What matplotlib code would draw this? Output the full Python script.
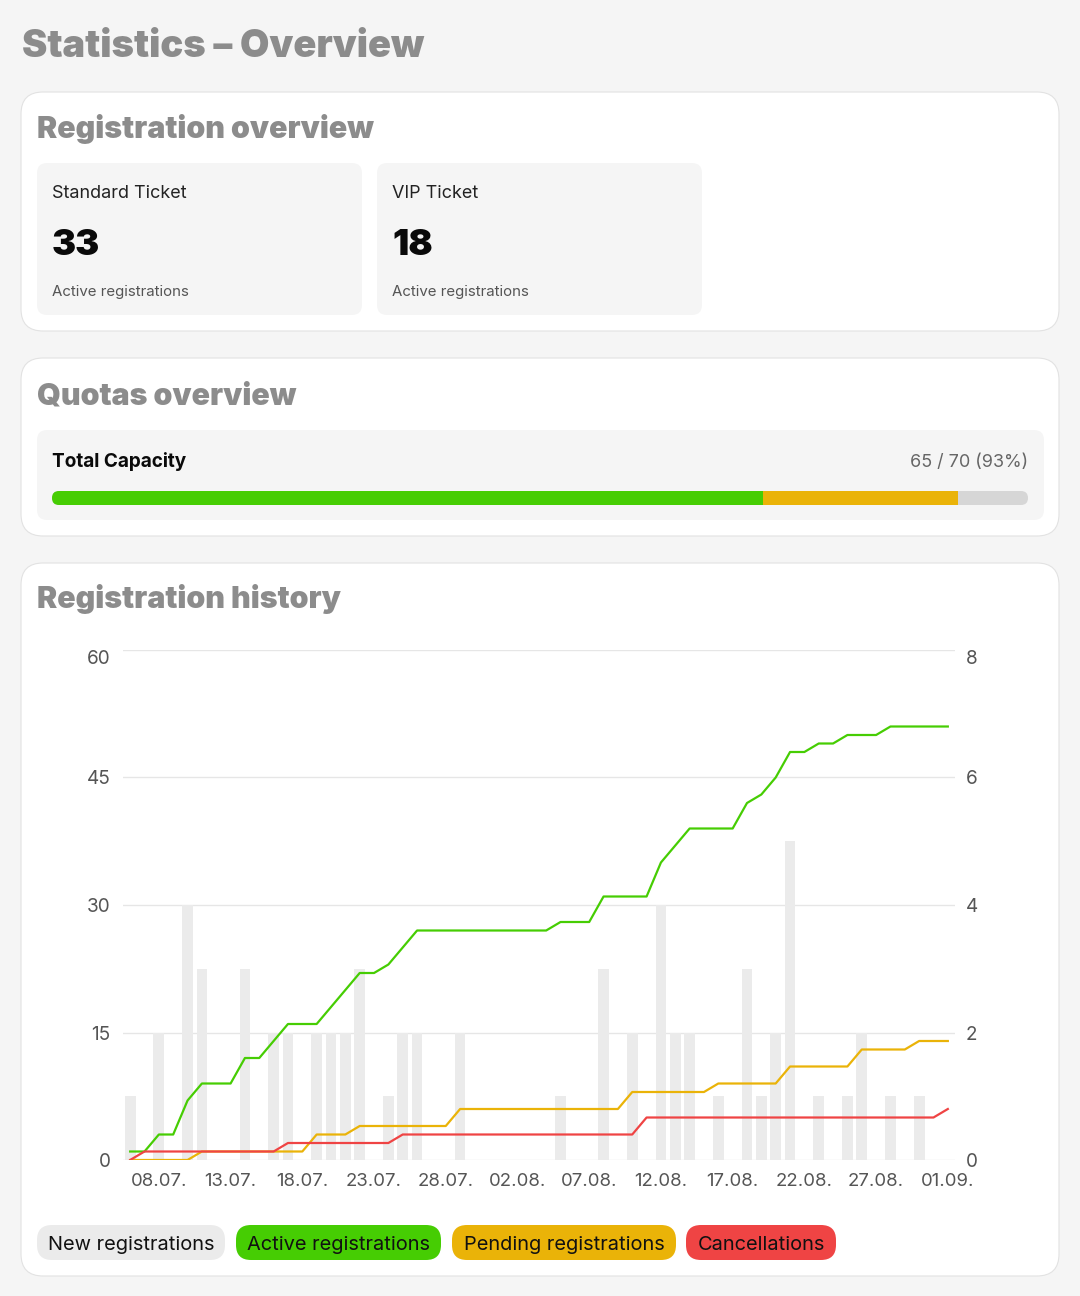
import matplotlib
matplotlib.use('Agg')
import matplotlib.pyplot as plt
import numpy as np
import pandas as pd
from matplotlib.patches import FancyBboxPatch, Rectangle
from matplotlib.transforms import Affine2D

# ---- data ----
dates = pd.date_range('2025-07-06', '2025-09-01', freq='D')

new_registrations = [1, 0, 2, 0, 4, 3, 0, 0, 3, 0,
                     2, 2, 0, 2, 2, 2, 3, 0, 1, 2,
                     2, 0, 0, 2, 0, 0, 0, 0, 0, 0,
                     1, 0, 0, 3, 0, 2, 0, 4, 2, 2,
                     0, 1, 0, 3, 1, 2, 5, 0, 1, 0,
                     1, 2, 0, 1, 0, 1, 0, 0]
active_registrations = [1, 1, 3, 3, 7, 9, 9, 9, 12, 12,
                        14, 16, 16, 16, 18, 20, 22, 22, 23, 25,
                        27, 27, 27, 27, 27, 27, 27, 27, 27, 27,
                        28, 28, 28, 31, 31, 31, 31, 35, 37, 39,
                        39, 39, 39, 42, 43, 45, 48, 48, 49, 49,
                        50, 50, 50, 51, 51, 51, 51, 51]
pending_registrations = [0, 0, 0, 0, 0, 1, 1, 1, 1, 1,
                         1, 1, 1, 3, 3, 3, 4, 4, 4, 4,
                         4, 4, 4, 6, 6, 6, 6, 6, 6, 6,
                         6, 6, 6, 6, 6, 8, 8, 8, 8, 8,
                         8, 9, 9, 9, 9, 9, 11, 11, 11, 11,
                         11, 13, 13, 13, 13, 14, 14, 14]
cancellations = [0, 1, 1, 1, 1, 1, 1, 1, 1, 1,
                 1, 2, 2, 2, 2, 2, 2, 2, 2, 3,
                 3, 3, 3, 3, 3, 3, 3, 3, 3, 3,
                 3, 3, 3, 3, 3, 3, 5, 5, 5, 5,
                 5, 5, 5, 5, 5, 5, 5, 5, 5, 5,
                 5, 5, 5, 5, 5, 5, 5, 6]

ticket_names = ['Standard Ticket', 'VIP Ticket']
ticket_active = [33, 18]
capacity_total = 70
capacity_active = 51
capacity_pending = 14

legend_labels = ['New registrations', 'Active registrations',
                 'Pending registrations', 'Cancellations']

GREEN = '#46cd03'
ORANGE = '#eab308'
RED = '#ef4444'
BARGRAY = '#ebebeb'
HEAD = '#8c8c8c'

plt.rcParams['font.family'] = ['Inter', 'DejaVu Sans']

W, H = 1080, 1296
fig = plt.figure(figsize=(W / 100, H / 100), dpi=100)
fig.patch.set_facecolor('#f5f5f5')
px = Affine2D().scale(1 / 100) + fig.dpi_scale_trans   # pixels, origin bottom-left


def box(x0, y0, x1, y1, fc, ec='none', r=10, lw=0.8, z=0):
    p = FancyBboxPatch((x0, H - y1), x1 - x0, y1 - y0,
                       boxstyle=f'round,pad=0,rounding_size={r}',
                       fc=fc, ec=ec, lw=lw, transform=px, zorder=z)
    fig.add_artist(p)
    return p


def txt(x, y, s, size, **kw):
    return fig.text(x, H - y, s, transform=px, fontsize=size * 0.72, **kw)


# title
txt(22, 57, 'Statistics – Overview', 38, color=HEAD, fontweight='black', va='baseline')

# cards
box(21, 92, 1059, 331, 'white', ec='#e2e2e2', r=22)
box(21, 358, 1059, 536, 'white', ec='#e2e2e2', r=22)
box(21, 563, 1059, 1276, 'white', ec='#e2e2e2', r=22)

# registration overview
txt(37, 138, 'Registration overview', 30.4, color=HEAD, fontweight='black', va='baseline')
for i, (name, n) in enumerate(zip(ticket_names, ticket_active)):
    x0 = 37 + i * 340
    box(x0, 163, x0 + 325, 315, '#f5f5f5', r=10, z=1)
    txt(x0 + 15, 198, name, 18, color='#222222', va='baseline')
    txt(x0 + 15, 255, str(n), 36, color='#0a0a0a', fontweight='black', va='baseline')
    txt(x0 + 15, 296, 'Active registrations', 15, color='#555555', va='baseline')

# quotas overview
txt(37, 404, 'Quotas overview', 30.4, color=HEAD, fontweight='black', va='baseline')
box(37, 430, 1044, 520, '#f5f5f5', r=10, z=1)
txt(52, 467, 'Total Capacity', 19, color='#0a0a0a', fontweight='bold', va='baseline')
used = capacity_active + capacity_pending
txt(1028, 467, f'{used} / {capacity_total} ({round(used / capacity_total * 100)}%)', 18,
    color='#666666', ha='right', va='baseline')
bx0, bx1, by0, by1 = 52, 1028, 491, 505
track = box(bx0, by0, bx1, by1, '#d6d6d6', r=7, z=2)
bw = bx1 - bx0
wa = bw * capacity_active / capacity_total
wp = bw * capacity_pending / capacity_total
for left, width, col in [(bx0, wa, GREEN), (bx0 + wa, wp, ORANGE)]:
    rect = Rectangle((left, H - by1), width, by1 - by0, fc=col, ec='none',
                     transform=px, zorder=3)
    fig.add_artist(rect)
    rect.set_clip_path(track)

# registration history
txt(37, 608, 'Registration history', 30.4, color=HEAD, fontweight='black', va='baseline')

x = np.arange(len(dates))
ax = fig.add_axes([123 / W, 1 - 1160 / H, (955 - 123) / W, (1160 - 650) / H])
axr = ax.twinx()

axr.bar(x, new_registrations, width=0.75, color=BARGRAY, zorder=2)
axr.set_ylim(0, 8)
axr.set_yticks(range(0, 9, 2))
axr.yaxis.grid(True, color='#e6e6e6', lw=1)
axr.set_axisbelow(True)

ax.plot(x, active_registrations, color=GREEN, lw=1.6)
ax.plot(x, pending_registrations, color=ORANGE, lw=1.6)
ax.plot(x, cancellations, color=RED, lw=1.6)
ax.set_ylim(0, 60)
ax.set_yticks([0, 15, 30, 45, 60])
ax.set_xlim(-0.5, len(dates) - 0.5)
ticks = list(range(2, len(dates), 5))
ax.set_xticks(ticks)
ax.set_xticklabels([dates[t].strftime('%d.%m.') for t in ticks])

ax.set_zorder(axr.get_zorder() + 1)
ax.patch.set_visible(False)
for a in (ax, axr):
    for s in a.spines.values():
        s.set_visible(False)
ax.tick_params(axis='y', length=0, pad=9, labelsize=19 * 0.72, labelcolor='#555555')
ax.tick_params(axis='x', length=0, pad=9, labelsize=18.5 * 0.72, labelcolor='#555555')
axr.tick_params(axis='y', length=0, pad=8, labelsize=19 * 0.72, labelcolor='#555555')
ax.get_yticklabels()[-1].set_va('top')
axr.get_yticklabels()[-1].set_va('top')

# legend pills
pills = [(37, 225, BARGRAY), (236, 441, GREEN), (452, 676, ORANGE), (686, 836, RED)]
for (p0, p1, col), lab in zip(pills, legend_labels):
    box(p0, 1225, p1, 1260, col, r=15, z=1)
    txt((p0 + p1) / 2, 1250, lab, 20, color='#111111', ha='center', va='baseline')

fig.savefig('out.png', dpi=100, facecolor=fig.get_facecolor())
